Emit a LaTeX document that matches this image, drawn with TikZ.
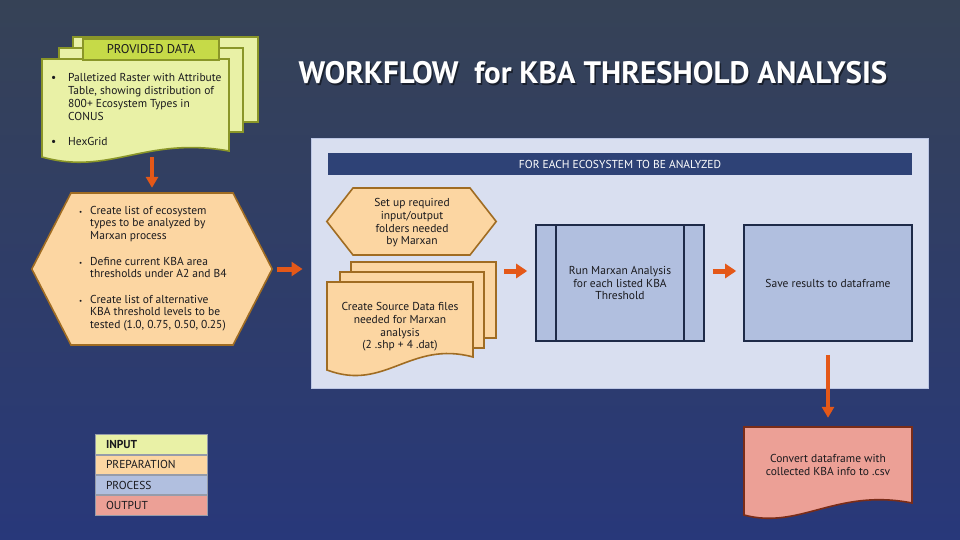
\documentclass[tikz,border=0pt]{standalone}
\usepackage{fontspec}
\setmainfont{PT Sans}
\usetikzlibrary{arrows.meta,positioning,calc}

\definecolor{bgtop}{RGB}{54,66,86}
\definecolor{bgmid}{RGB}{48,62,104}
\definecolor{bgbot}{RGB}{40,56,122}
\definecolor{inputc}{RGB}{233,241,166}
\definecolor{inputhead}{RGB}{198,218,72}
\definecolor{inputline}{RGB}{138,150,40}
\definecolor{prepc}{RGB}{252,214,162}
\definecolor{prepline}{RGB}{160,108,34}
\definecolor{procc}{RGB}{177,191,223}
\definecolor{procline}{RGB}{30,42,72}
\definecolor{outc}{RGB}{236,160,150}
\definecolor{outcline}{RGB}{122,44,24}
\definecolor{panelc}{RGB}{217,223,240}
\definecolor{panelline}{RGB}{188,198,228}
\definecolor{barc}{RGB}{46,66,118}
\definecolor{arrowc}{RGB}{228,88,24}
\definecolor{txtc}{RGB}{26,26,30}
\definecolor{legline}{RGB}{150,156,170}

\begin{document}
\begin{tikzpicture}[x=1pt, y=-1pt,
    every node/.style={font=\fontsize{11.5}{12.7}\selectfont, text=txtc, inner sep=0pt},
    inpage/.style={draw=inputline, fill=inputc, line width=1.6pt},
    preppage/.style={draw=prepline, fill=prepc, line width=1.6pt},
    procbox/.style={draw=procline, fill=procc, line width=1.6pt, minimum width=168pt, minimum height=116pt, align=center},
    flow/.style={draw=arrowc, line width=3.5pt, -{Triangle[length=11pt,width=12pt]}},
    blockarrow/.style={draw=arrowc, line width=5pt, -{Triangle[length=11pt,width=14pt]}},
    legend/.style={draw=legline, line width=0.8pt, minimum width=112pt, minimum height=19.5pt, text width=90pt, inner xsep=11pt, align=left}]

    % Background
    \shade[top color=bgtop, middle color=bgmid, bottom color=bgbot] (0,0) rectangle (960,540);
    \useasboundingbox (0,0) rectangle (960,540);

    % Title
    \node[text=black, opacity=0.5, font=\fontsize{31}{36}\selectfont\bfseries] at (594.5,74.5) {WORKFLOW\ \ for KBA THRESHOLD ANALYSIS};
    \node[text=white, font=\fontsize{31}{36}\selectfont\bfseries] (title) at (593,73) {WORKFLOW\ \ for KBA THRESHOLD ANALYSIS};

    % Input: provided data
    \draw[inpage] (73,37) rectangle (258,122);
    \draw[inpage] (59,48) rectangle (243,132);
    \node[minimum width=187pt, minimum height=98pt] (data) at (135.5,108) {};
    \draw[inpage] (42,59) -- (229,59) -- (229,151) .. controls (145,136) and (110,176) .. (42,157) -- cycle;
    \node[draw=inputline, fill=inputhead, line width=1.2pt, minimum width=136pt, minimum height=21pt, font=\fontsize{12.7}{14}\selectfont] (datahead) at (151,49.5) {PROVIDED DATA};
    \node[anchor=base west] (datatext) at (51,82) {\begin{tabular}[t]{@{}l@{}l@{}}
        \makebox[17pt][l]{\textbullet} & Palletized Raster with Attribute\\
        & Table, showing distribution of\\
        & 800+ Ecosystem Types in\\
        & CONUS\\[13pt]
        \makebox[17pt][l]{\textbullet} & HexGrid
    \end{tabular}};

    % Preparation
    \node[minimum width=240pt, minimum height=152pt] (prep) at (152,269) {};
    \draw[preppage] (71,193) -- (233,193) -- (prep.east) -- (233,345) -- (71,345) -- (prep.west) -- cycle;
    \node[anchor=base west] (preptext) at (79,214) {\begin{tabular}[t]{@{}l@{}l@{}}
        \makebox[11pt][l]{\scriptsize\textbullet} & Create list of ecosystem\\
        & types to be analyzed by\\
        & Marxan process\\[13pt]
        \makebox[11pt][l]{\scriptsize\textbullet} & Define current KBA area\\
        & thresholds under A2 and B4\\[12.5pt]
        \makebox[11pt][l]{\scriptsize\textbullet} & Create list of alternative\\
        & KBA threshold levels to be\\
        & tested (1.0, 0.75, 0.50, 0.25)
    \end{tabular}};
    \draw[flow, shorten >=5pt] (data.south -| prep.north) -- (prep.north);

    % Loop panel
    \node[draw=panelline, fill=panelc, line width=1pt, minimum width=617pt, minimum height=249pt] (panel) at (619.5,263.5) {};
    \node[fill=barc, minimum width=584pt, minimum height=22pt, text=white] (bar) at (620,164) {FOR EACH ECOSYSTEM TO BE ANALYZED};
    \draw[blockarrow, shorten <=5pt, shorten >=8pt] (prep.east) -- (prep.east -| panel.west);

    % Set up folders
    \node[minimum width=169pt, minimum height=67pt] (setup) at (411.5,221.5) {};
    \draw[preppage] (353,188) -- (470,188) -- (setup.east) -- (470,255) -- (353,255) -- (setup.west) -- cycle;
    \node[align=center] (setuptext) at (412,223) {Set up required\\input/output\\folders needed\\by Marxan};

    % Source data files
    \node[minimum width=169pt, minimum height=108pt] (source) at (411.5,316) {};
    \draw[preppage] (351,262) rectangle (496,338);
    \draw[preppage] (340,272) rectangle (484,348);
    \draw[preppage] (327,282) -- (473,282) -- (473,357) .. controls (410,340) and (385,392) .. (327,370) -- cycle;
    \node[align=center] (sourcetext) at (400,327) {Create Source Data files\\needed for Marxan\\analysis\\(2 .shp + 4 .dat)};

    % Process
    \node[procbox] (run) at (620,283) {Run Marxan Analysis\\for each listed KBA\\Threshold};
    \draw[procline, line width=1.6pt] ([xshift=21pt]run.north west) -- ([xshift=21pt]run.south west);
    \draw[procline, line width=1.6pt] ([xshift=-21pt]run.north east) -- ([xshift=-21pt]run.south east);
    \node[procbox] (save) at (828,283) {Save results to dataframe};
    \draw[blockarrow, shorten <=8pt, shorten >=8pt] ([yshift=12pt]run.west -| source.east) -- ([yshift=12pt]run.west);
    \draw[blockarrow, shorten <=8pt, shorten >=7pt] ([yshift=12pt]run.east) -- ([yshift=12pt]run.east -| save.west);

    % Output
    \node[minimum width=168pt, minimum height=88pt] (csv) at (828,471) {};
    \draw[draw=outcline, fill=outc, line width=1.6pt] (744,427) -- (912,427) -- (912,503) .. controls (836,488) and (800,530) .. (744,515) -- cycle;
    \node[align=center] (csvtext) at (828,465) {Convert dataframe with\\collected KBA info to .csv};
    \draw[flow, shorten <=13pt, shorten >=9pt] (save.south) -- (csv.north);

    % Legend
    \node[legend, fill=inputc, font=\fontsize{11.5}{12.7}\selectfont\bfseries] (linput) at (151,444.5) {INPUT};
    \node[legend, fill=prepc, below=0pt of linput] (lprep) {PREPARATION};
    \node[legend, fill=procc, below=0pt of lprep] (lproc) {PROCESS};
    \node[legend, fill=outc, below=0pt of lproc] (lout) {OUTPUT};
\end{tikzpicture}
\end{document}
